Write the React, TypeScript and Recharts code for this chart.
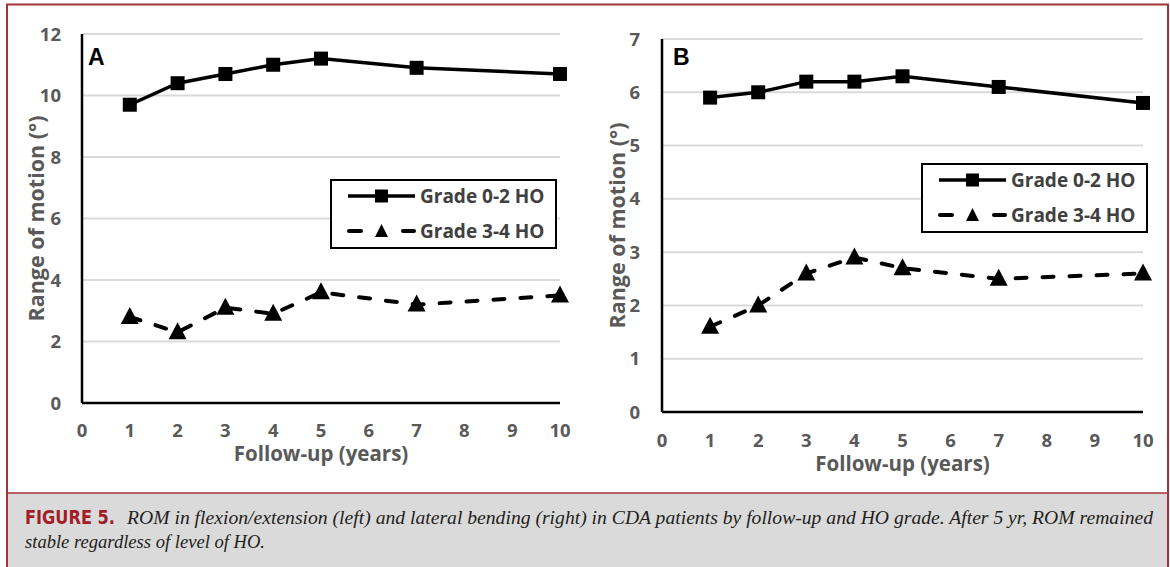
import React from 'react';
import { LineChart, Line, XAxis, YAxis, CartesianGrid, Legend } from 'recharts';

// ---- data ----
const years = [1, 2, 3, 4, 5, 7, 10];
const xTicks = [0, 1, 2, 3, 4, 5, 6, 7, 8, 9, 10];
const flexLowHO = [9.7, 10.4, 10.7, 11.0, 11.2, 10.9, 10.7];
const flexHighHO = [2.8, 2.3, 3.1, 2.9, 3.6, 3.2, 3.5];
const latLowHO = [5.9, 6.0, 6.2, 6.2, 6.3, 6.1, 5.8];
const latHighHO = [1.6, 2.0, 2.6, 2.9, 2.7, 2.5, 2.6];
const yTicksA = [0, 2, 4, 6, 8, 10, 12];
const yTicksB = [0, 1, 2, 3, 4, 5, 6, 7];
const seriesNames = ['Grade 0-2 HO', 'Grade 3-4 HO'];
const xTitle = 'Follow-up (years)';
const yTitle = 'Range of motion (°)';
const captionLabel = 'FIGURE 5.';
const captionLine1 =
  'ROM in flexion/extension (left) and lateral bending (right) in CDA patients by follow-up and HO grade. After 5 yr, ROM remained';
const captionLine2 = 'stable regardless of level of HO.';

const buildRows = (low: number[], high: number[]) =>
  years.map((y, i) => ({ year: y, low: low[i], high: high[i] }));

const dataA = buildRows(flexLowHO, flexHighHO);
const dataB = buildRows(latLowHO, latHighHO);

const FONT = "'Open Sans', 'Liberation Sans', sans-serif";
const GREY = '#595959';
const DASH = '11 16';

const SquareDot = (props: any) => {
  const { cx, cy, index } = props;
  if (cx == null || cy == null) return <g key={`s${index}`} />;
  return <rect key={`s${index}`} x={cx - 7} y={cy - 7} width={14} height={14} fill="#000" />;
};

const TriDot = (props: any) => {
  const { cx, cy, index } = props;
  if (cx == null || cy == null) return <g key={`t${index}`} />;
  return (
    <polygon
      key={`t${index}`}
      points={`${cx},${cy - 10} ${cx + 9},${cy + 7} ${cx - 9},${cy + 7}`}
      fill="#000"
    />
  );
};

const LegendBox = () => (
  <div
    style={{
      width: 227,
      height: 70,
      boxSizing: 'border-box',
      border: '2px solid #000',
      background: '#fff',
      position: 'relative',
    }}
  >
    <svg width={227} height={70} style={{ position: 'absolute', left: -2, top: -2 }}>
      <line x1={18} x2={85} y1={17} y2={17} stroke="#000" strokeWidth={3.5} />
      <rect x={45} y={10.5} width={13} height={13} fill="#000" />
      <line x1={19} x2={31} y1={52} y2={52} stroke="#000" strokeWidth={4} strokeLinecap="round" />
      <line x1={73} x2={84} y1={52} y2={52} stroke="#000" strokeWidth={4} strokeLinecap="round" />
      <polygon points="51.5,45 58,58 45,58" fill="#000" />
      <text x={90} y={17} dy="0.36em" fontFamily={FONT} fontWeight={700} fontSize={19} fill="#404040">
        {seriesNames[0]}
      </text>
      <text x={90} y={52} dy="0.36em" fontFamily={FONT} fontWeight={700} fontSize={19} fill="#404040">
        {seriesNames[1]}
      </text>
    </svg>
  </div>
);

type PanelCfg = {
  left: number;
  data: any[];
  yMax: number;
  yTicks: number[];
  margin: { top: number; right: number; bottom: number; left: number };
  yAxisWidth: number;
  xTickMargin: number;
  yTickMargin: number;
  xTitleDy: number;
  yTitleX: number;
  letter: string;
  letterX: number;
  legendLeft: number;
  legendTop: number;
};

const Panel = ({ cfg }: { cfg: PanelCfg }) => {
  const tickStyle = { fontFamily: FONT, fontWeight: 700, fontSize: 18.5, fill: GREY };
  return (
    <div style={{ position: 'absolute', left: cfg.left, top: 0, width: 585, height: 490 }}>
      <LineChart width={585} height={490} data={cfg.data} margin={cfg.margin}>
        <CartesianGrid vertical={false} stroke="#d9d9d9" strokeWidth={2} />
        <XAxis
          dataKey="year"
          type="number"
          domain={[0, 10]}
          ticks={xTicks}
          interval={0}
          height={60}
          tickSize={0}
          tickMargin={cfg.xTickMargin}
          tick={tickStyle}
          axisLine={{ stroke: '#000', strokeWidth: 2.5 }}
          label={(p: any) => {
            const vb = p.viewBox ?? p;
            return (
              <text
                x={vb.x + vb.width / 2}
                y={vb.y + cfg.xTitleDy}
                textAnchor="middle"
                fontFamily={FONT}
                fontWeight={700}
                fontSize={20.5}
                fill={GREY}
              >
                {xTitle}
              </text>
            );
          }}
        />
        <YAxis
          type="number"
          domain={[0, cfg.yMax]}
          ticks={cfg.yTicks}
          interval={0}
          width={cfg.yAxisWidth}
          tickSize={0}
          tickMargin={cfg.yTickMargin}
          tick={tickStyle}
          axisLine={{ stroke: '#000', strokeWidth: 2.5 }}
          label={(p: any) => {
            const vb = p.viewBox ?? p;
            const cy = vb.y + vb.height / 2;
            return (
              <g>
                <text
                  x={cfg.yTitleX}
                  y={cy}
                  transform={`rotate(-90, ${cfg.yTitleX}, ${cy})`}
                  textAnchor="middle"
                  fontFamily={FONT}
                  fontWeight={700}
                  fontSize={21.5}
                  fill={GREY}
                >
                  {yTitle}
                </text>
                <text
                  x={cfg.letterX}
                  y={65}
                  fontFamily="'Liberation Sans', Arial, sans-serif"
                  fontWeight={700}
                  fontSize={23}
                  fill="#000"
                >
                  {cfg.letter}
                </text>
              </g>
            );
          }}
        />
        <Legend
          layout="vertical"
          align="center"
          verticalAlign="middle"
          content={() => <LegendBox />}
          wrapperStyle={{ position: 'absolute', left: cfg.legendLeft, top: cfg.legendTop, width: 227, height: 70 }}
        />
        <Line
          dataKey="low"
          name={seriesNames[0]}
          stroke="#000"
          strokeWidth={3.5}
          dot={SquareDot}
          activeDot={false}
          isAnimationActive={false}
        />
        <Line
          dataKey="high"
          name={seriesNames[1]}
          stroke="#000"
          strokeWidth={4}
          strokeDasharray={DASH}
          strokeLinecap="round"
          dot={TriDot}
          activeDot={false}
          isAnimationActive={false}
        />
      </LineChart>
    </div>
  );
};

const panelA: PanelCfg = {
  left: 0,
  data: dataA,
  yMax: 12,
  yTicks: yTicksA,
  margin: { top: 34, right: 25, bottom: 27, left: 0 },
  yAxisWidth: 82,
  xTickMargin: 21,
  yTickMargin: 21,
  xTitleDy: 58,
  yTitleX: 44,
  letter: 'A',
  letterX: 88,
  legendLeft: 330,
  legendTop: 179,
};

const panelB: PanelCfg = {
  left: 585,
  data: dataB,
  yMax: 7,
  yTicks: yTicksB,
  margin: { top: 39, right: 27, bottom: 18, left: 0 },
  yAxisWidth: 77,
  xTickMargin: 22,
  yTickMargin: 22,
  xTitleDy: 59,
  yTitleX: 39.5,
  letter: 'B',
  letterX: 88,
  legendLeft: 336,
  legendTop: 163,
};

export default function App() {
  const BORDER = '#a3333b';
  return (
    <div
      style={{
        position: 'absolute',
        left: 0,
        top: 0,
        width: 1170,
        height: 567,
        background: '#fff',
        overflow: 'hidden',
      }}
    >
      <svg width={1170} height={567} style={{ position: 'absolute', left: 0, top: 0 }}>
        <rect x={7} y={493} width={1161} height={80} fill="#dadada" />
        <rect x={7} y={4.5} width={1161} height={600} fill="none" stroke={BORDER} strokeWidth={2} />
        <line x1={7} x2={1168} y1={493} y2={493} stroke={BORDER} strokeWidth={1.5} />
        <text
          x={25}
          y={524}
          fontFamily="'Liberation Sans Narrow', 'DejaVu Sans Condensed', 'Liberation Sans', sans-serif"
          fontWeight={700}
          fontSize={19.5}
          fill="#a01e26"
          textLength={90}
          lengthAdjust="spacingAndGlyphs"
        >
          {captionLabel}
        </text>
        <text
          x={127}
          y={524}
          fontFamily="'Liberation Serif', serif"
          fontStyle="italic"
          fontSize={19}
          fill="#231f20"
          textLength={1026}
          lengthAdjust="spacingAndGlyphs"
        >
          {captionLine1}
        </text>
        <text
          x={25}
          y={548}
          fontFamily="'Liberation Serif', serif"
          fontStyle="italic"
          fontSize={19}
          fill="#231f20"
          textLength={240}
          lengthAdjust="spacingAndGlyphs"
        >
          {captionLine2}
        </text>
      </svg>
      <Panel cfg={panelA} />
      <Panel cfg={panelB} />
    </div>
  );
}
